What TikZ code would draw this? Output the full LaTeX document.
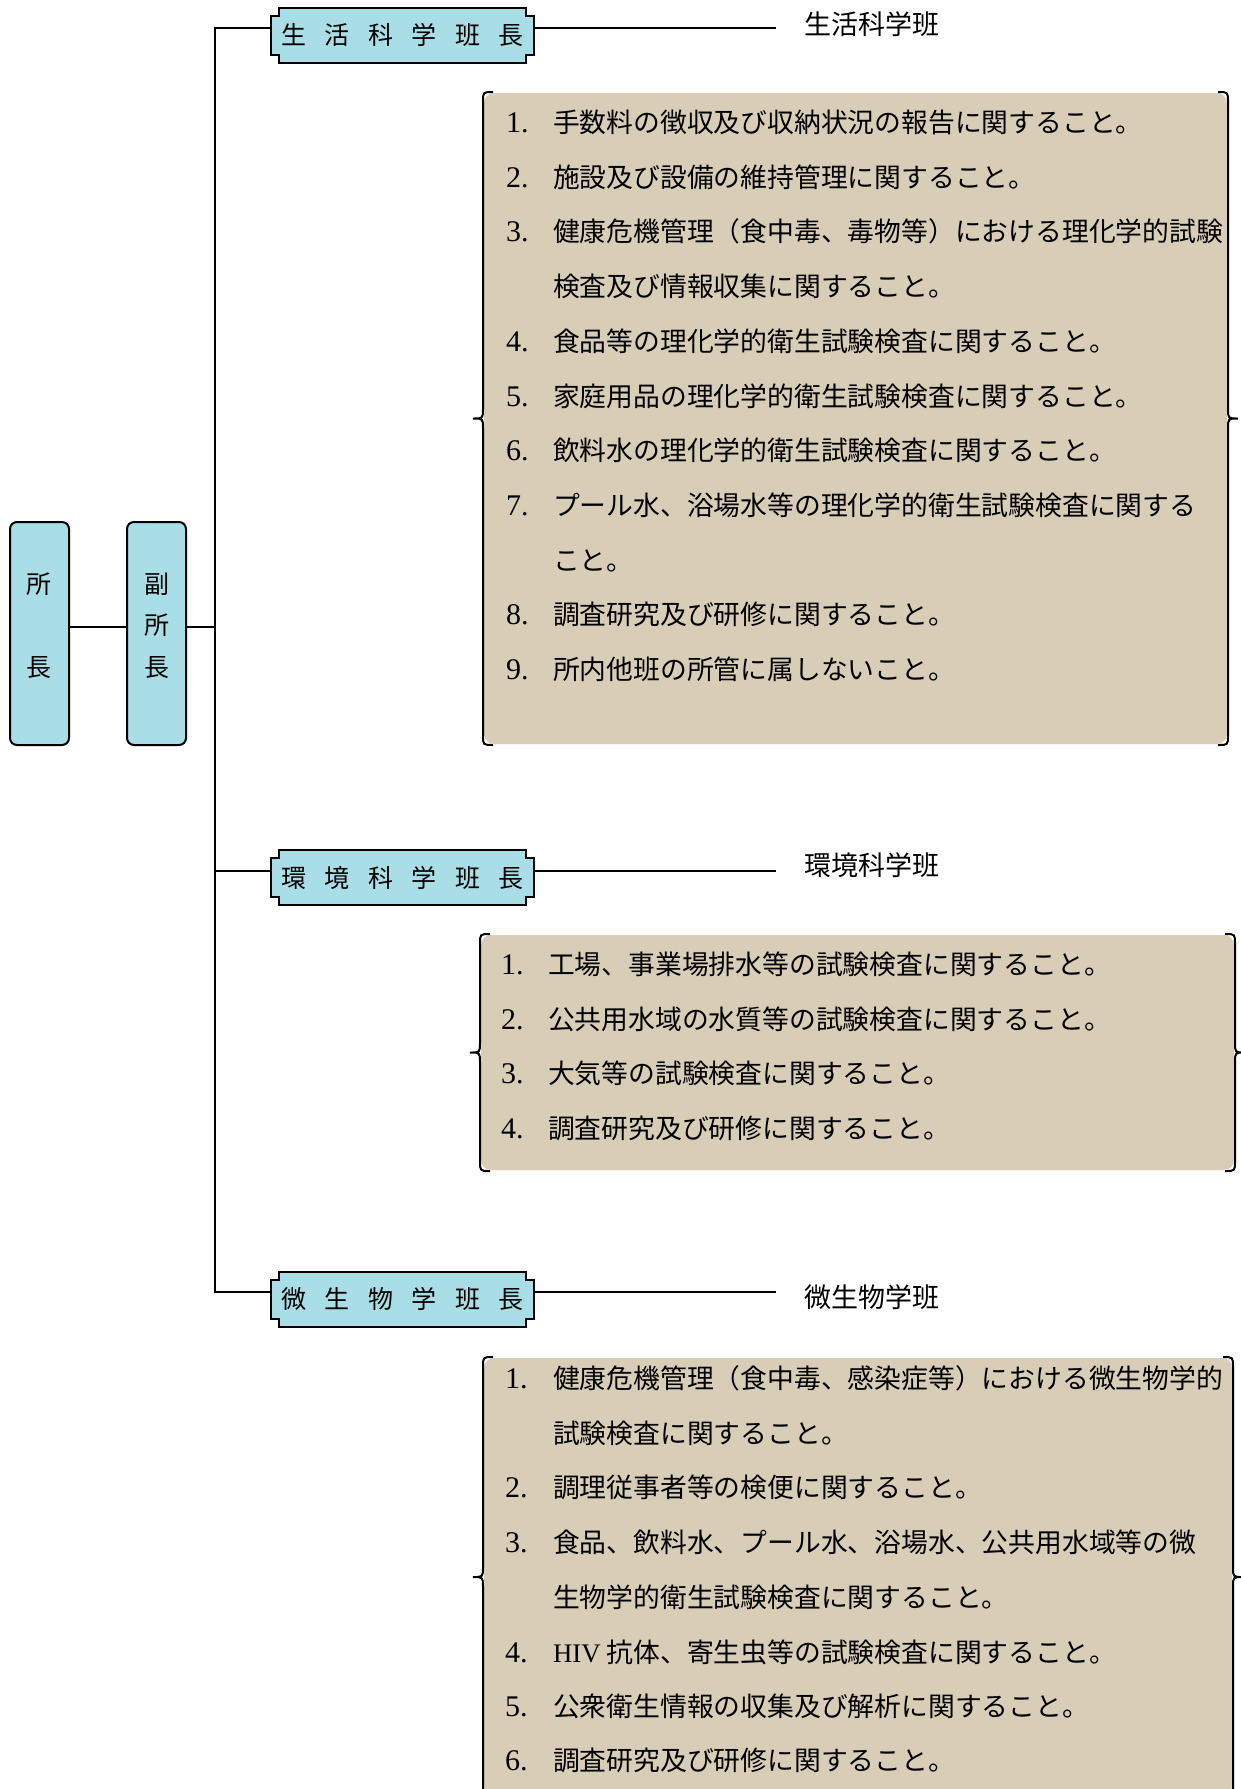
\documentclass[tikz,border=0pt]{standalone}
\usepackage{fontspec}
\setmainfont{Noto Sans CJK JP}
\newfontfamily\lat{Liberation Serif}
\usetikzlibrary{calc,backgrounds}
\definecolor{aqua}{RGB}{170,222,231}
\definecolor{burlap}{RGB}{216,205,182}
\newcommand\gp{\hspace{18.4pt}}
\newcommand\plaque[1]{%
  \begin{scope}[on background layer]
    \draw[line width=2pt, fill=aqua]
      ($(#1.north west)+(8,0)$) -- ($(#1.north east)+(-8,0)$) -- ++(0,8) -- ++(8,0)
      -- ($(#1.south east)+(0,-8)$) -- ++(-8,0) -- ++(0,8)
      -- ($(#1.south west)+(8,0)$) -- ++(0,-8) -- ++(-8,0)
      -- ($(#1.north west)+(0,8)$) -- ++(8,0) -- cycle;
  \end{scope}}
\newcommand\braces[1]{%
  \draw[line width=2pt]
    ($(#1.north west)+(10,0)$) .. controls (#1.north west) .. ($(#1.north west)+(0,10)$)
    -- ($(#1.west)+(0,-10)$) .. controls (#1.west) .. ($(#1.west)+(-10,0)$)
    .. controls (#1.west) .. ($(#1.west)+(0,10)$)
    -- ($(#1.south west)+(0,-10)$) .. controls (#1.south west) .. ($(#1.south west)+(10,0)$);
  \draw[line width=2pt]
    ($(#1.north east)+(-10,0)$) .. controls (#1.north east) .. ($(#1.north east)+(0,10)$)
    -- ($(#1.east)+(0,-10)$) .. controls (#1.east) .. ($(#1.east)+(10,0)$)
    .. controls (#1.east) .. ($(#1.east)+(0,10)$)
    -- ($(#1.south east)+(0,-10)$) .. controls (#1.south east) .. ($(#1.south east)+(-10,0)$);}
\begin{document}
\begin{tikzpicture}[x=1pt,y=-1pt,line width=2pt,
  tall/.style={draw, line width=2pt, rounded corners=7pt, fill=aqua,
    minimum width=59pt, minimum height=223pt, inner sep=0pt,
    font=\fontsize{25}{41.5}\selectfont},
  head/.style={minimum width=261pt, minimum height=53pt, inner sep=0pt,
    font=\fontsize{25}{30}\selectfont},
  detail/.style={fill=burlap, rounded corners=10pt, inner sep=0pt},
  item/.style={anchor=west, inner sep=0pt, text height=23.6pt, text depth=3.2pt,
    font=\fontsize{26.8}{32}\selectfont},
  num/.style={item, font=\lat\fontsize{30}{34}\selectfont},
  lbl/.style={inner sep=0pt, font=\fontsize{27}{32}\selectfont}]
\useasboundingbox (0,0) rectangle (1241,1789);
\begin{scope}[on background layer]
  \fill[white] (0,0) rectangle (1241,1789);
\end{scope}

% detail boxes
\node[detail, minimum width=743pt, minimum height=651pt] (d1) at (855.5,418.5) {};
\node[detail, minimum width=753pt, minimum height=235pt] (d2) at (857.5,1052.5) {};
\node[detail, minimum width=748pt, minimum height=438pt] (d3) at (858,1577) {};
\braces{d1}
\braces{d2}
\braces{d3}

% left boxes
\node[tall] (ceo) at (39.5,633.5)
  {\raisebox{7pt}[\height][\depth]{\begin{tabular}{@{}c@{}}所\\[41.5pt]長\end{tabular}}};
\node[tall] (vice) at (156.5,633.5)
  {\raisebox{7pt}[\height][\depth]{\begin{tabular}{@{}c@{}}副\\所\\長\end{tabular}}};

% header plaques
\node[head] (h1) at (402.5,35) {生\gp 活\gp 科\gp 学\gp 班\gp 長};
\node[head] (h2) at (402.5,877.5) {環\gp 境\gp 科\gp 学\gp 班\gp 長};
\node[head] (h3) at (402.5,1299) {微\gp 生\gp 物\gp 学\gp 班\gp 長};
\plaque{h1}
\plaque{h2}
\plaque{h3}

% labels
\node[lbl] (l1) at (871.5,24) {生活科学班};
\node[lbl] (l2) at (871.5,865) {環境科学班};
\node[lbl] (l3) at (871.5,1297) {微生物学班};

% connectors
\coordinate (t) at (215,0);
\coordinate (b1) at ([yshift=7pt]h1.west);
\coordinate (b2) at ([yshift=7pt]h2.west);
\coordinate (b3) at ([yshift=7pt]h3.west);
\coordinate (v) at ([yshift=7pt]vice.east);
\draw ([yshift=7pt]ceo.east) -- ([yshift=7pt]vice.west);
\draw (v) -- (v -| t);
\draw (b1) -- (b1 -| t) -- (b3 -| t) -- (b3);
\draw (b2) -- (b2 -| t);
\coordinate (e1) at (776,28);
\coordinate (e2) at (776,870.5);
\coordinate (e3) at (776,1292);
\draw ([yshift=7pt]h1.east) -- (e1);
\draw ([yshift=7pt]h2.east) -- (e2);
\draw ([yshift=7pt]h3.east) -- (e3);

% items
\foreach \nx/\tx/\yy/\nn/\txt [count=\k] in {
  505/552/122/1./手数料の徴収及び収納状況の報告に関すること。,
  505/552/177/2./施設及び設備の維持管理に関すること。,
  505/552/231/3./健康危機管理（食中毒、毒物等）における理化学的試験,
  505/552/286//検査及び情報収集に関すること。,
  505/552/341/4./食品等の理化学的衛生試験検査に関すること。,
  505/552/396/5./家庭用品の理化学的衛生試験検査に関すること。,
  505/552/450/6./飲料水の理化学的衛生試験検査に関すること。,
  505/552/505/7./プール水、浴場水等の理化学的衛生試験検査に関する,
  505/552/560//こと。,
  505/552/614/8./調査研究及び研修に関すること。,
  505/552/669/9./所内他班の所管に属しないこと。,
  500/547/964/1./工場、事業場排水等の試験検査に関すること。,
  500/547/1019/2./公共用水域の水質等の試験検査に関すること。,
  500/547/1073/3./大気等の試験検査に関すること。,
  500/547/1128/4./調査研究及び研修に関すること。,
  504/552/1378/1./健康危機管理（食中毒、感染症等）における微生物学的,
  504/552/1433//試験検査に関すること。,
  504/552/1487/2./調理従事者等の検便に関すること。,
  504/552/1542/3./食品、飲料水、プール水、浴場水、公共用水域等の微,
  504/552/1597//生物学的衛生試験検査に関すること。,
  504/552/1652/4./{\lat HIV} 抗体、寄生虫等の試験検査に関すること。,
  504/552/1706/5./公衆衛生情報の収集及び解析に関すること。,
  504/552/1760/6./調査研究及び研修に関すること。}{
  \node[num] (n\k) at (\nx,\yy) {\nn};
  \node[item] (t\k) at (\tx,\yy) {\txt};
}
\end{tikzpicture}
\end{document}
